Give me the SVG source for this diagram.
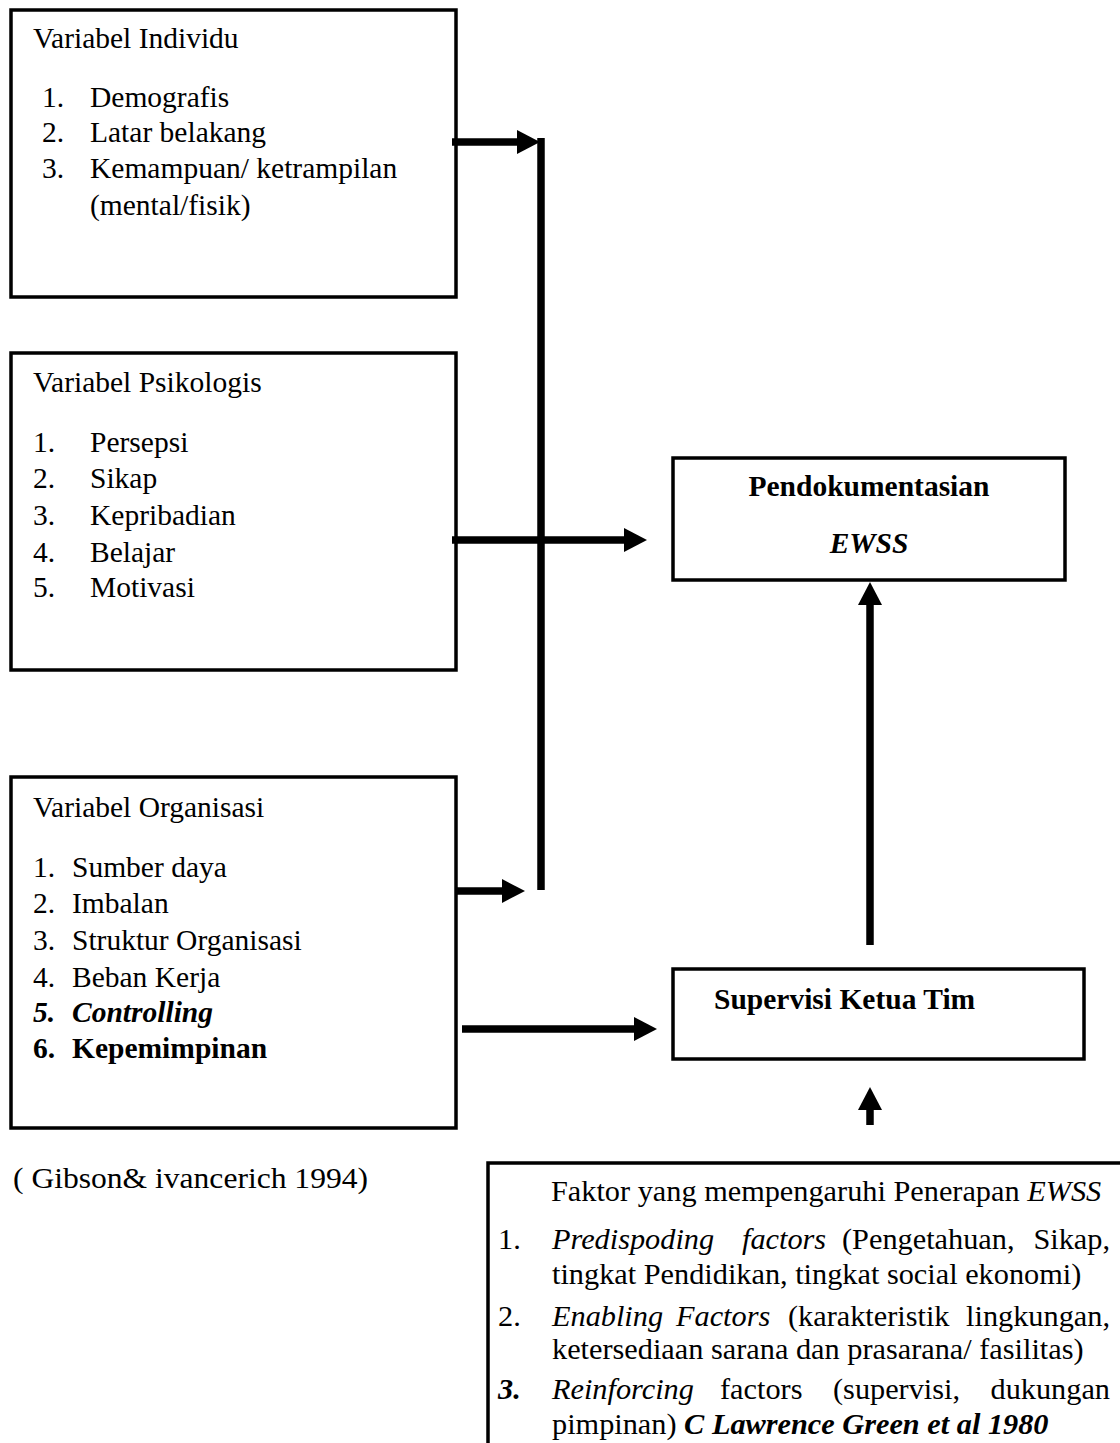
<svg xmlns="http://www.w3.org/2000/svg" width="1120" height="1443" viewBox="0 0 1120 1443">
<style>
text{font-family:"Liberation Serif","Times New Roman",serif;font-size:29.5px;fill:#000}
.box{fill:#fff;stroke:#000;stroke-width:3.5}
.b{font-weight:bold}
.i{font-style:italic}
.bt{font-size:30.3px}
.con{stroke:#000;stroke-width:7.5;fill:none}
</style>
<defs>
<marker id="ah" markerUnits="userSpaceOnUse" markerWidth="24" markerHeight="24" refX="0" refY="12" orient="auto" viewBox="0 0 24 24">
<path d="M0,0 L23,12 L0,24 z" fill="#000"/>
</marker>
</defs>
<rect width="1120" height="1443" fill="#fff"/>

<g id="individu">
<rect class="box" x="11" y="10" width="445" height="287"/>
<text x="33" y="48">Variabel Individu</text>
<text x="42" y="107">1.</text><text x="90" y="107">Demografis</text>
<text x="42" y="142">2.</text><text x="90" y="142">Latar belakang</text>
<text x="42" y="178">3.</text><text x="90" y="178">Kemampuan/ ketrampilan</text>
<text x="90" y="215">(mental/fisik)</text>
</g>

<g id="psikologis">
<rect class="box" x="11" y="353" width="445" height="317"/>
<text x="33" y="392">Variabel Psikologis</text>
<text x="33" y="452">1.</text><text x="90" y="452">Persepsi</text>
<text x="33" y="488">2.</text><text x="90" y="488">Sikap</text>
<text x="33" y="525">3.</text><text x="90" y="525">Kepribadian</text>
<text x="33" y="562">4.</text><text x="90" y="562">Belajar</text>
<text x="33" y="597">5.</text><text x="90" y="597">Motivasi</text>
</g>

<g id="organisasi">
<rect class="box" x="11" y="777" width="445" height="351"/>
<text x="33" y="817">Variabel Organisasi</text>
<text x="33" y="877">1.</text><text x="72" y="877">Sumber daya</text>
<text x="33" y="913">2.</text><text x="72" y="913">Imbalan</text>
<text x="33" y="950">3.</text><text x="72" y="950">Struktur Organisasi</text>
<text x="33" y="987">4.</text><text x="72" y="987">Beban Kerja</text>
<text x="33" y="1022" class="b i">5.</text><text x="72" y="1022" class="b i">Controlling</text>
<text x="33" y="1058" class="b">6.</text><text x="72" y="1058" class="b">Kepemimpinan</text>
</g>

<g id="citation">
<text x="13" y="1188" textLength="355" lengthAdjust="spacingAndGlyphs">( Gibson&amp; ivancerich 1994)</text>
</g>

<g id="pendokumentasian">
<rect class="box" x="673" y="458" width="392" height="122"/>
<text x="869" y="496" text-anchor="middle" class="b">Pendokumentasian</text>
<text x="869" y="553" text-anchor="middle" class="b i">EWSS</text>
</g>

<g id="supervisi">
<rect class="box" x="673" y="969" width="411" height="90"/>
<text x="714" y="1009" class="b">Supervisi Ketua Tim</text>
</g>

<g id="faktor">
<path d="M488,1443 L488,1163 L1120,1163" fill="none" stroke="#000" stroke-width="3.5"/>
<text class="bt" x="551" y="1201">Faktor yang mempengaruhi Penerapan <tspan class="i">EWSS</tspan></text>
<text class="bt" x="498" y="1249">1.</text>
<text class="bt i" x="552" y="1249">Predispoding</text>
<text class="bt i" x="742" y="1249">factors</text>
<text class="bt" x="842" y="1249">(Pengetahuan,</text>
<text class="bt" x="1110" y="1249" text-anchor="end">Sikap,</text>
<text class="bt" x="552" y="1284">tingkat Pendidikan, tingkat social ekonomi)</text>
<text class="bt" x="498" y="1326">2.</text>
<text class="bt i" x="552" y="1326">Enabling</text>
<text class="bt i" x="676" y="1326">Factors</text>
<text class="bt" x="788" y="1326">(karakteristik</text>
<text class="bt" x="1110" y="1326" text-anchor="end">lingkungan,</text>
<text class="bt" x="552" y="1359">ketersediaan sarana dan prasarana/ fasilitas)</text>
<text class="bt b i" x="498" y="1399">3.</text>
<text class="bt i" x="552" y="1399">Reinforcing</text>
<text class="bt" x="720" y="1399">factors</text>
<text class="bt" x="833" y="1399">(supervisi,</text>
<text class="bt" x="1110" y="1399" text-anchor="end">dukungan</text>
<text class="bt" x="552" y="1434">pimpinan) <tspan class="b i">C Lawrence Green et al 1980</tspan></text>
</g>

<g id="connectors">
<line class="con" x1="452" y1="142" x2="517" y2="142" marker-end="url(#ah)"/>
<line class="con" x1="541" y1="138" x2="541" y2="890" stroke-width="8"/>
<line class="con" x1="452" y1="540" x2="624" y2="540" marker-end="url(#ah)"/>
<line class="con" x1="456" y1="891" x2="502" y2="891" marker-end="url(#ah)"/>
<line class="con" x1="462" y1="1029" x2="634" y2="1029" marker-end="url(#ah)"/>
<line class="con" x1="870" y1="945" x2="870" y2="605" marker-end="url(#ah)"/>
<line class="con" x1="870" y1="1125" x2="870" y2="1110" marker-end="url(#ah)"/>
</g>
</svg>
